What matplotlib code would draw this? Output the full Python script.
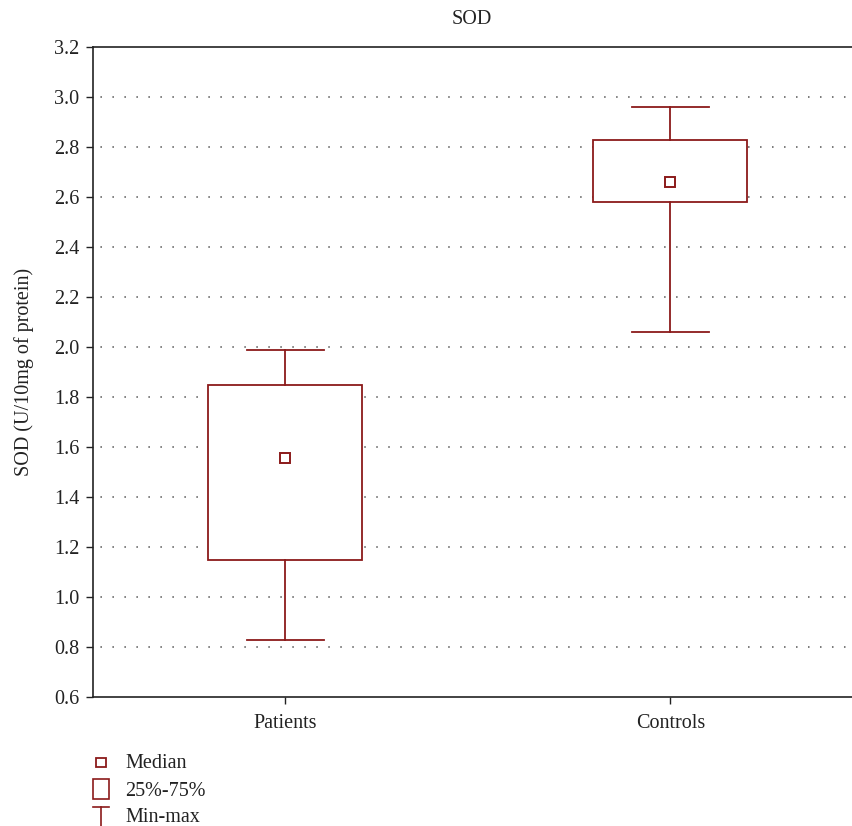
import matplotlib
matplotlib.use("Agg")
import matplotlib.pyplot as plt
from matplotlib.patches import Rectangle
from matplotlib.lines import Line2D

plt.rcParams['font.family'] = ['Liberation Serif', 'DejaVu Serif']

groups = ["Patients", "Controls"]
minimum = [0.83, 2.06]
q1 = [1.15, 2.58]
median = [1.555, 2.66]
q3 = [1.85, 2.83]
maximum = [1.99, 2.96]
y_ticks = [0.6, 0.8, 1.0, 1.2, 1.4, 1.6, 1.8, 2.0, 2.2, 2.4, 2.6, 2.8, 3.0, 3.2]
legend_labels = ["Median", "25%-75%", "Min-max"]

RED = "#8b1a1a"
INK = "#222222"
FS = 14.5
W, H = 853, 826
fig = plt.figure(figsize=(W / 100, H / 100), dpi=100)

left, right, top, bottom = 93, 863, 47, 697
ax = fig.add_axes([left / W, 1 - bottom / H, (right - left) / W, (bottom - top) / H])

positions = [0.25, 0.75]
stats = [dict(med=m, q1=a, q3=b, whislo=lo, whishi=hi, label=g)
         for g, lo, a, m, b, hi in zip(groups, minimum, q1, median, q3, maximum)]
lw = 1.3
ax.bxp(stats, positions=positions, widths=0.2, capwidths=0.1, showfliers=False,
       patch_artist=True,
       boxprops=dict(edgecolor=RED, facecolor="white", linewidth=lw),
       whiskerprops=dict(color=RED, linewidth=lw),
       capprops=dict(color=RED, linewidth=lw),
       medianprops=dict(linestyle="none"),
       manage_ticks=False, zorder=3)
ax.plot(positions, median, linestyle="none", marker="s", markersize=7,
        markerfacecolor="white", markeredgecolor=RED, markeredgewidth=1.4, zorder=4)

ax.set_xlim(0, 1)
ax.set_ylim(0.6, 3.2)
ax.set_yticks(y_ticks)
ax.set_yticklabels([f"{v:.1f}" for v in y_ticks])
ax.set_xticks(positions)
ax.set_xticklabels(groups)
for v in y_ticks[1:-1]:
    ax.axhline(v, color="#555555", linewidth=1.1, linestyle=(3, (1, 6.85)), zorder=1)

ax.spines["right"].set_visible(False)
for side in ("left", "bottom", "top"):
    ax.spines[side].set_color(INK)
    ax.spines[side].set_linewidth(1.2)
ax.tick_params(axis="both", direction="out", length=5, width=1.0, colors=INK,
               labelsize=FS, labelcolor=INK)
ax.tick_params(axis="x", pad=7)
ax.tick_params(axis="y", pad=5)
ax.set_ylabel("SOD (U/10mg of protein)", fontsize=FS, color=INK, labelpad=14)
fig.text(472 / W, 1 - 19 / H, "SOD", fontsize=FS, color=INK, ha="center", va="center")

# legend drawn in pixel coordinates below the plot
lax = fig.add_axes([0, 0, 1, 1], zorder=5)
lax.set_xlim(0, W)
lax.set_ylim(H, 0)
lax.axis("off")
lax.patch.set_alpha(0)
lax.add_patch(Rectangle((96, 758), 10, 9, fill=False, edgecolor=RED, linewidth=1.3))
lax.add_patch(Rectangle((93, 779), 16, 20, fill=False, edgecolor=RED, linewidth=1.2))
lax.add_line(Line2D([93, 109], [807, 807], color=RED, linewidth=1.2))
lax.add_line(Line2D([101, 101], [807, 828], color=RED, linewidth=1.2))
for label, yy in zip(legend_labels, [764, 791, 818]):
    lax.text(125, yy, label, fontsize=FS, color=INK, va="center", ha="left")

fig.savefig("out.png", dpi=100)
